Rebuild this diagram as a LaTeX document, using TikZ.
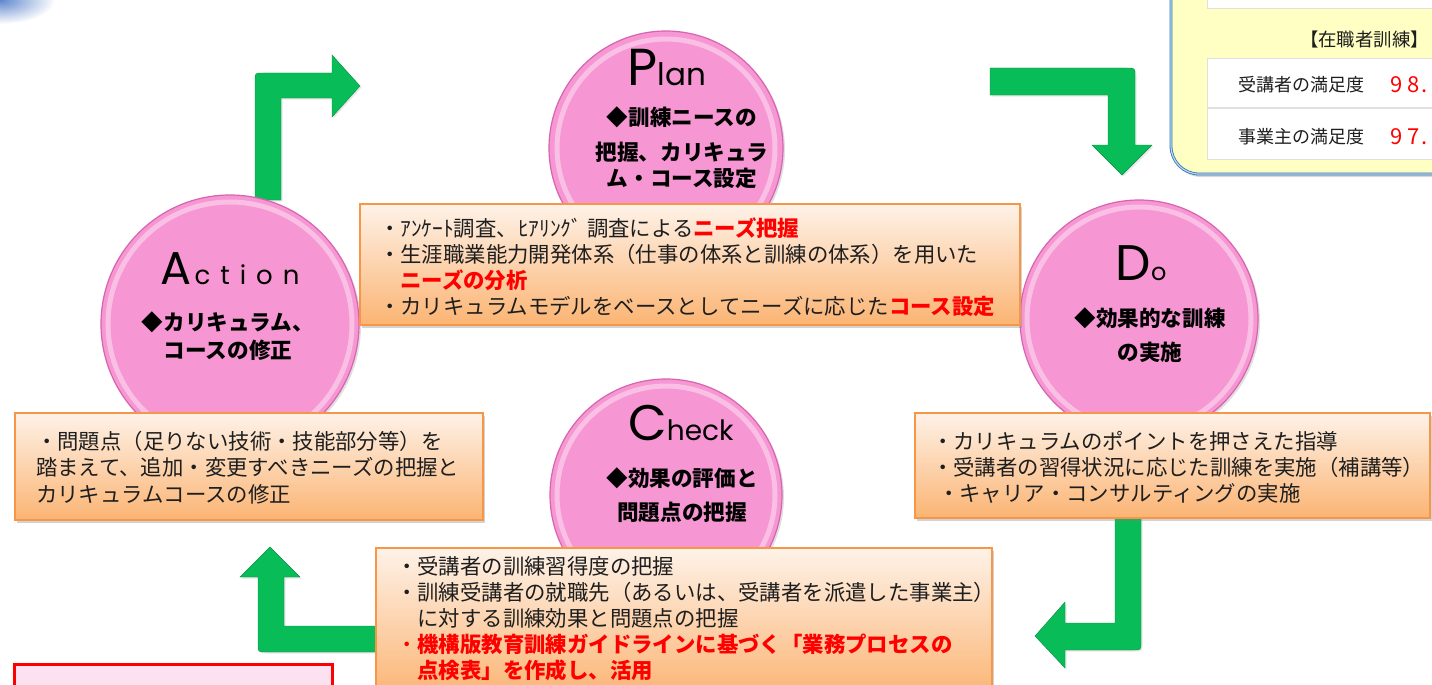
\documentclass[tikz,border=0pt]{standalone}
\usepackage{fontspec}
\setmainfont{Noto Sans CJK JP}
\newfontfamily\latinf{Poppins}
\usetikzlibrary{shadows,fadings}
\definecolor{pinkmain}{RGB}{246,150,210}
\definecolor{pinkdark}{RGB}{215,100,175}
\definecolor{pinklight}{RGB}{252,205,235}
\definecolor{boxtop}{RGB}{254,242,232}
\definecolor{boxbot}{RGB}{251,180,115}
\definecolor{boxline}{RGB}{247,150,70}
\definecolor{agreen}{RGB}{8,188,88}
\definecolor{panelfill}{RGB}{255,255,195}
\definecolor{panelline}{RGB}{46,117,182}
\definecolor{paneldouble}{RGB}{190,215,240}
\definecolor{blobblue}{RGB}{95,135,205}
\definecolor{redpink}{RGB}{252,226,240}
\definecolor{txt}{RGB}{30,30,30}
\tikzfading[name=blobfade, inner color=transparent!0, outer color=transparent!100]
\newcommand{\rd}[1]{\textcolor{red}{\bfseries #1}}
\begin{document}
\begin{tikzpicture}[x=1pt,y=-1pt,every node/.style={inner sep=0pt, outer sep=0pt},
  ball/.style={circle, minimum size=#1, fill=pinkmain, draw=pinkdark, line width=1.2pt,
    drop shadow={opacity=0.25, shadow xshift=2pt, shadow yshift=-2pt}},
  rim/.style={draw=pinklight, line width=5pt, opacity=0.75},
  garrow/.style={fill=agreen, draw=agreen!75!black, line width=0.4pt,
    drop shadow={opacity=0.2, shadow xshift=1.5pt, shadow yshift=-1.5pt}},
  obox/.style={draw=boxline, line width=1.5pt, top color=boxtop, bottom color=boxbot,
    anchor=north west, drop shadow={opacity=0.35, shadow xshift=2pt, shadow yshift=-3pt}},
  btext/.style={anchor=north west, align=left, text=txt, font=\fontsize{21.4}{26}\selectfont},
  ctext/.style={anchor=north, align=center, text=black, font=\bfseries\fontsize{21.6}{26}\selectfont},
  title/.style={anchor=base, text=black, font=\latinf},
  rowbox/.style={fill=white, draw=black!12, line width=0.8pt, anchor=north west}
]
\useasboundingbox (0,0) rectangle (1432,685);
\clip (0,0) rectangle (1432,685);

% top-left blue blob
\fill[blobblue, path fading=blobfade] (0,0) ellipse [x radius=55pt, y radius=24pt];

% top-right panel
\node[fill=panelfill, draw=panelline, double=paneldouble, double distance=1.2pt, line width=0.8pt,
  rounded corners=28pt, minimum width=300pt, minimum height=207pt, anchor=north west,
  drop shadow={opacity=0.3, shadow xshift=2pt, shadow yshift=-3pt}] (panel) at (1171,-33) {};
\node[rowbox, minimum width=250pt, minimum height=41pt] (toprow) at (1207,-33) {};
\node[rowbox, minimum width=250pt, minimum height=49pt] (row1) at (1207,58) {};
\node[rowbox, minimum width=250pt, minimum height=51pt] (row2) at (1207,108) {};
\node[anchor=west, text=txt, font=\fontsize{18.4}{18.4}\selectfont] (hdr) at (1300,40) {【在職者訓練】};
\node[anchor=west, text=txt, font=\fontsize{18}{18}\selectfont] (r1l) at (1238,85) {受講者の満足度};
\node[anchor=west, text=red, font=\fontsize{22}{22}\selectfont] (r1v) at (1390,85) {9\hspace{5pt}8\hspace{2pt}.};
\node[anchor=west, text=txt, font=\fontsize{18}{18}\selectfont] (r2l) at (1238,137) {事業主の満足度};
\node[anchor=west, text=red, font=\fontsize{22}{22}\selectfont] (r2v) at (1390,137) {9\hspace{5pt}7\hspace{2pt}.};

% green arrows
\path[garrow] (255,200) -- (255,81) .. controls (255,73) .. (263,73) -- (332,73) -- (332,55)
  -- (360,86) -- (332,117) -- (332,98) -- (281,98) -- (281,200) -- cycle;
\path[garrow] (990,68) -- (1127,68) .. controls (1135,68) .. (1135,76) -- (1135,145) -- (1152,145)
  -- (1122,175) -- (1092,145) -- (1108,145) -- (1108,95) -- (990,95) -- cycle;
\path[garrow] (1115,515) -- (1141,515) -- (1141,642) .. controls (1141,650) .. (1133,650)
  -- (1065,650) -- (1065,668) -- (1035,636) -- (1065,602) -- (1065,623) -- (1115,623) -- cycle;
\path[garrow] (270,547) -- (300,577) -- (284,577) -- (284,626) -- (380,626) -- (380,652)
  -- (266,652) .. controls (258,652) .. (258,644) -- (258,577) -- (240,577) -- cycle;

% circles
\node[ball=234pt] (plan) at (666,148) {};
\draw[rim] (plan.center) circle[radius=109];
\node[ball=258pt] (action) at (230,324) {};
\draw[rim] (action.center) circle[radius=122];
\node[ball=238pt] (do) at (1139,319) {};
\draw[rim] (do.center) circle[radius=112];
\node[ball=232pt] (check) at (666,495) {};
\draw[rim] (check.center) circle[radius=109];

% circle titles
\node[title] (plant) at (667,85) {\fontsize{52}{52}\selectfont P\fontsize{31}{31}\selectfont lan};
\node[title] (actiont) at (230,284) {\fontsize{46}{46}\selectfont A\hspace{3pt}\fontsize{26}{26}\selectfont c\hspace{10pt}t\hspace{10pt}i\hspace{10pt}o\hspace{10pt}n};
\node[title] (dot) at (1141,280) {\fontsize{50}{50}\selectfont D\fontsize{24}{24}\selectfont o};
\node[title] (checkt) at (681,440) {\fontsize{50}{50}\selectfont C\fontsize{28}{28}\selectfont heck};

% circle texts
\node[ctext] (plantx) at (682,106.5) {◆訓練ニースの\\[9pt]把握、カリキュラ\\ム・コース設定};
\node[ctext, font=\bfseries\fontsize{21.6}{28}\selectfont] (actiontx) at (228,311.5) {◆カリキュラム、\\コースの修正};
\node[ctext] (dotx) at (1150,307.5) {◆効果的な訓練\\[8pt]の実施};
\node[ctext] (checktx) at (682,467.5) {◆効果の評価と\\[8pt]問題点の把握};

% orange boxes
\node[obox, minimum width=660pt, minimum height=121pt] (pbox) at (360,204) {};
\node[obox, minimum width=468pt, minimum height=107pt] (abox) at (15,413) {};
\node[obox, minimum width=515pt, minimum height=105pt] (dbox) at (915,413) {};
\node[obox, minimum width=616pt, minimum height=150pt] (cbox) at (376,548) {};

\node[btext] (ptext) at (379,218) {・ｱﾝｹｰﾄ調査、ﾋｱﾘﾝｸﾞ 調査による\rd{ニーズ把握}\\
・生涯職業能力開発体系（仕事の体系と訓練の体系）を用いた\\
\phantom{・}\rd{ニーズの分析}\\
・カリキュラムモデルをベースとしてニーズに応じた\rd{コース設定}};
\node[btext, font=\fontsize{21.4}{26.5}\selectfont] (atext) at (36,431) {・問題点（足りない技術・技能部分等）を\\
踏まえて、追加・変更すべきニーズの把握と\\
カリキュラムコースの修正};
\node[btext] (dtext) at (932,431) {・カリキュラムのポイントを押さえた指導\\
・受講者の習得状況に応じた訓練を実施（補講等）\\
\hspace{6pt}・キャリア・コンサルティングの実施};
\node[btext] (ctext) at (396,556) {・受講者の訓練習得度の把握\\
・訓練受講者の就職先（あるいは、受講者を派遣した事業主）\\
\phantom{・}に対する訓練効果と問題点の把握\\
\textcolor{red}{・}\rd{機構版教育訓練ガイドラインに基づく「業務プロセスの}\\
\phantom{・}\rd{点検表」を作成し、活用}};

% bottom-left red box
\node[draw=red, line width=3pt, fill=redpink, anchor=north west, minimum width=318pt,
  minimum height=60pt, drop shadow={opacity=0.3, shadow xshift=2pt, shadow yshift=-2pt}] (redbox) at (14,664) {};
\end{tikzpicture}
\end{document}
